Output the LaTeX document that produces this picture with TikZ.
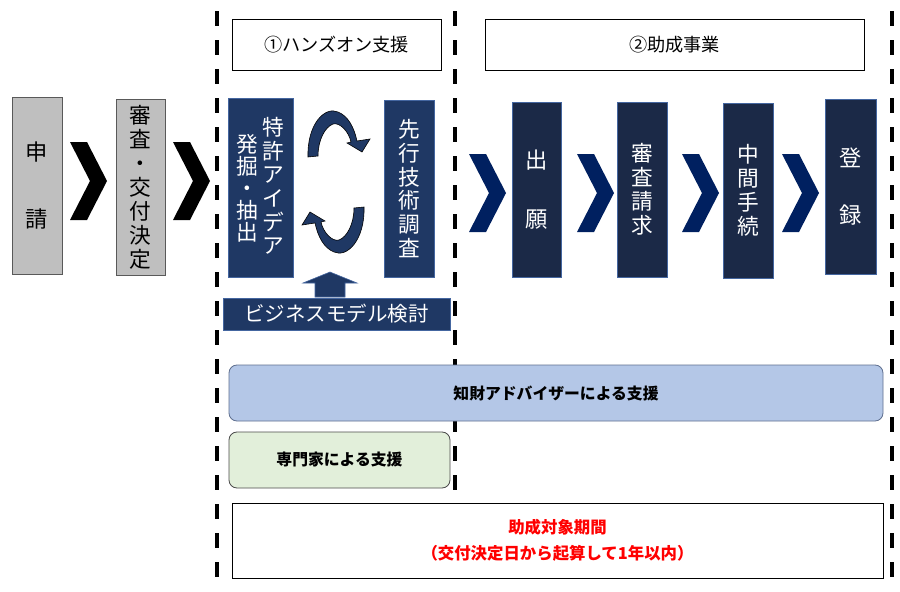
\documentclass[tikz,border=0pt]{standalone}
\usepackage{fontspec}
\setmainfont{Noto Sans CJK JP}
\usepackage{tikz}
\usetikzlibrary{arrows.meta}
\definecolor{navybox}{RGB}{27,41,71}
\definecolor{navyblue}{RGB}{31,56,100}
\definecolor{navyline}{RGB}{68,102,160}
\definecolor{chevblue}{RGB}{0,32,96}
\definecolor{grayfill}{RGB}{191,191,191}
\definecolor{advfill}{RGB}{180,199,231}
\definecolor{advline}{RGB}{96,112,144}
\definecolor{expfill}{RGB}{226,239,218}

\tikzset{
  chevron/.pic={
    \fill[pic actions] (0,0) -- (17,0) -- (37,39) -- (17,78) -- (0,78) -- (20,39) -- cycle;
  },
  cyclearrow/.pic={
    \filldraw[fill=navyblue, draw=black, line width=0.5pt]
      (-28,-25) .. controls (-29,-58) and (-11,-76) .. (2,-70)
      .. controls (12,-66) and (18,-55) .. (21,-41) -- (34,-43) -- (26,-30) -- (11,-39) -- (15,-40)
      .. controls (13,-50) and (4,-60) .. (-3,-58)
      .. controls (-11,-55) and (-18,-42) .. (-18,-26) -- cycle;
  }
}

\begin{document}
\begin{tikzpicture}[x=0.3mm, y=-0.3mm,
    divider/.style={line width=1.2mm, dash pattern=on 4.5mm off 4.2mm},
    titlebox/.style={draw=black, line width=0.6pt, fill=white, inner sep=0pt, font=\fontsize{15.5}{18}\selectfont},
    graybox/.style={draw=black!65, line width=0.6pt, fill=grayfill, inner sep=0pt, align=center},
    navy/.style={draw=navyline, line width=0.5pt, fill=#1, text=white, inner sep=0pt, align=center},
    navy/.default=navybox,
    vtext/.style={align=center, inner sep=0pt},
    support/.style={rounded corners=2.4mm, line width=0.7pt, inner sep=0pt, font=\bfseries\fontsize{13.5}{16}\selectfont}]
    \path[use as bounding box, fill=white] (0,0) rectangle (900,591);

    \draw[divider] (217,11) -- (217,591);
    \draw[divider] (455,11) -- (455,591);
    \draw[divider] (892,11) -- (892,591);

    \node[titlebox, minimum width=62.7mm, minimum height=15.3mm] (hands) at (336.5,44.5) {①ハンズオン支援};
    \node[titlebox, minimum width=113.7mm, minimum height=15.3mm] (josei) at (674.5,44.5) {②助成事業};

    \node[graybox, minimum width=15mm, minimum height=53.1mm, font=\fontsize{19}{58}\selectfont] (shinsei) at (37,185.5) {申\\請};
    \pic[fill=black] at (70,142) {chevron};
    \node[graybox, minimum width=14.7mm, minimum height=52.8mm, font=\fontsize{18.5}{20.5}\selectfont] (kofu) at (140.5,187) {審\\査\\・\\交\\付\\決\\定};
    \pic[fill=black] at (173,142) {chevron};

    \node[navy=navyblue, minimum width=19.5mm, minimum height=53.7mm] (hakkutsu) at (260.5,187.5) {};
    \node[vtext, text=white, font=\fontsize{18.5}{20.2}\selectfont] (idea) at (273,186) {特\\許\\ア\\イ\\デ\\ア};
    \node[vtext, text=white, font=\fontsize{18.5}{18.8}\selectfont] (chushutsu) at (247,188) {発\\掘\\・\\抽\\出};
    \node[navy=navyblue, minimum width=15mm, minimum height=53.1mm, font=\fontsize{18.5}{20.2}\selectfont] (senko) at (409,188.5) {先\\行\\技\\術\\調\\査};
    \pic at (336,182) {cyclearrow};
    \pic[rotate=180] at (336,182) {cyclearrow};

    \node[navy=navyblue, minimum width=68.1mm, minimum height=9.6mm, font=\fontsize{17.5}{20}\selectfont] (biz) at (336.5,314) {ビジネスモデル検討};
    \filldraw[fill=navyblue, draw=navyline, line width=0.5pt] (315,297) -- (315,283) -- (303,283) -- (330,272) -- (357,283) -- (345,283) -- (345,297) -- cycle;

    \pic[fill=chevblue] at (469,154) {chevron};
    \node[navy, minimum width=14.7mm, minimum height=52.5mm, font=\fontsize{19}{51}\selectfont] (shutsugan) at (536.5,189.5) {出\\願};
    \pic[fill=chevblue] at (577,154) {chevron};
    \node[navy, minimum width=15mm, minimum height=52.5mm, font=\fontsize{18.5}{20.5}\selectfont] (shinsa) at (642,189.5) {審\\査\\請\\求};
    \pic[fill=chevblue] at (682,154) {chevron};
    \node[navy, minimum width=15mm, minimum height=52.5mm, font=\fontsize{18.5}{20.5}\selectfont] (chukan) at (748,190.5) {中\\間\\手\\続};
    \pic[fill=chevblue] at (782,154) {chevron};
    \node[navy, minimum width=15.3mm, minimum height=52.5mm, font=\fontsize{19}{48}\selectfont] (toroku) at (850.5,186.5) {登\\録};

    \node[support, draw=advline, fill=advfill, minimum width=196.2mm, minimum height=16.8mm] (advisor) at (556,393) {知財アドバイザーによる支援};
    \node[support, draw=black!70, fill=expfill, minimum width=66.3mm, minimum height=16.8mm] (expert) at (339.5,460) {専門家による支援};
    \node[draw=black, line width=0.6pt, fill=white, inner sep=0pt, align=center, text=red,
        minimum width=195.3mm, minimum height=22.5mm, font=\bfseries\fontsize{14}{22}\selectfont] (period) at (557.5,540.5)
        {助成対象期間\\（交付決定日から起算して1年以内）};
\end{tikzpicture}
\end{document}
